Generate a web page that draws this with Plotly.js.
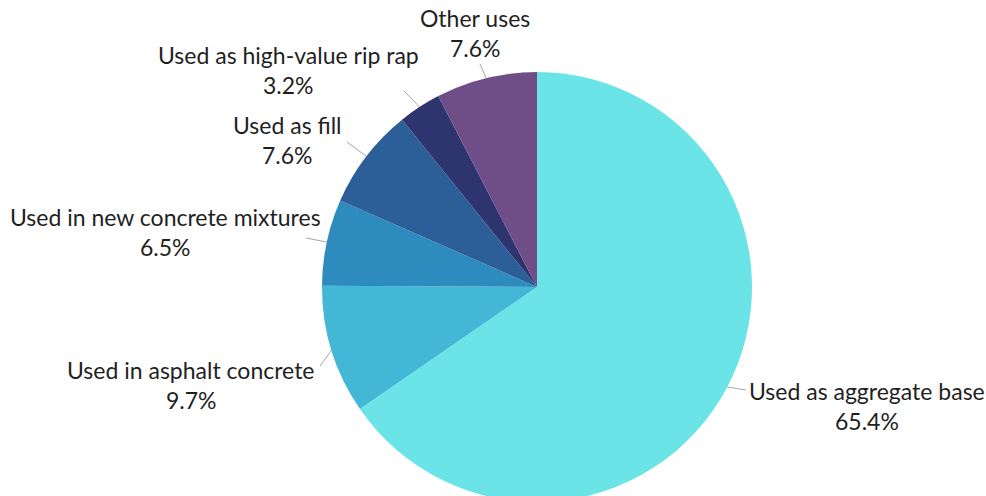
<!DOCTYPE html>
<html>
<head>
<meta charset="utf-8">
<script src="https://cdn.plot.ly/plotly-3.0.1.min.js"></script>
<style>
  html, body { margin: 0; padding: 0; background: #fff; overflow: hidden; }
  #chart { width: 986px; height: 510px; }
</style>
</head>
<body>
<div id="chart"></div>
<script>
// Uses of recycled concrete (share of total, %)
const categories = [
  "Used as aggregate base",
  "Used in asphalt concrete",
  "Used in new concrete mixtures",
  "Used as fill",
  "Used as high-value rip rap",
  "Other uses"
];
const shares = [65.4, 9.7, 6.5, 7.6, 3.2, 7.6];
const sliceColors = ["#6ae4e7", "#43b7d6", "#2e8bbe", "#2c5f98", "#2e346d", "#6f4e87"];

// Layout geometry (pixels)
const W = 986, H = 510;
const cx = 537, cy = 287, R = 215;
// label centre (x, y of first line) and leader-line outer end for each slice
const labelPos = [[867, 391], [191, 370], [165, 217], [287, 125], [288, 55], [475, 18]];
const leaderEnd = [[746, 390], [320, 366], [306, 238], [347, 142], [404, 91], [480, 64]];
const lineGap = 30;
const labelFont = { family: "Lato, 'Open Sans', sans-serif", size: 23, color: "#1f1f1f" };

const px = x => x / W;
const py = y => 1 - y / H;

const total = shares.reduce((a, b) => a + b, 0);
const annotations = [];
const shapes = [];
let cum = 0;
shares.forEach((v, i) => {
  const mid = (cum + v / 2) / total * 2 * Math.PI;
  cum += v;
  const sx = cx + R * Math.sin(mid);
  const sy = cy - R * Math.cos(mid);
  shapes.push({
    type: "line", xref: "paper", yref: "paper",
    x0: px(sx), y0: py(sy), x1: px(leaderEnd[i][0]), y1: py(leaderEnd[i][1]),
    line: { color: "#a6a6a6", width: 1 }
  });
  const [lx, ly] = labelPos[i];
  annotations.push({
    xref: "paper", yref: "paper", x: px(lx), y: py(ly),
    text: categories[i], showarrow: false, xanchor: "center", yanchor: "middle",
    font: labelFont
  });
  annotations.push({
    xref: "paper", yref: "paper", x: px(lx), y: py(ly + lineGap),
    text: v.toFixed(1) + "%", showarrow: false, xanchor: "center", yanchor: "middle",
    font: labelFont
  });
});

const trace = {
  type: "pie",
  labels: categories,
  values: shares,
  sort: false,
  direction: "clockwise",
  rotation: 0,
  textinfo: "none",
  hoverinfo: "label+percent",
  marker: { colors: sliceColors, line: { width: 0 } },
  domain: { x: [px(cx - R), px(cx + R)], y: [py(cy + R), py(cy - R)] },
  showlegend: false
};

Plotly.newPlot("chart", [trace], {
  width: W, height: H,
  margin: { l: 0, r: 0, t: 0, b: 0 },
  paper_bgcolor: "#ffffff",
  showlegend: false,
  annotations: annotations,
  shapes: shapes
}, { displayModeBar: false, staticPlot: true });
</script>
</body>
</html>
